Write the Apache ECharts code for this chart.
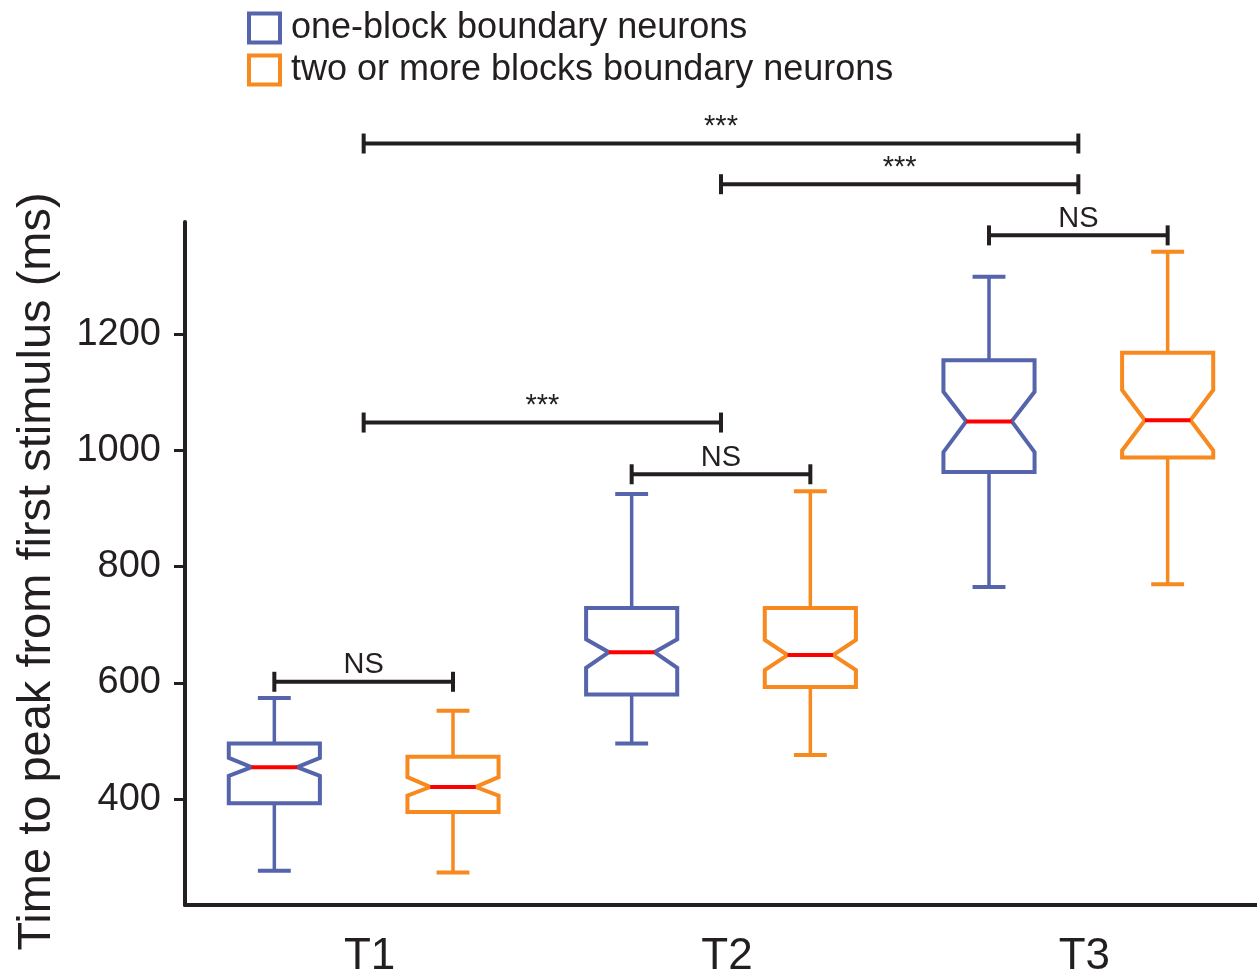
<!DOCTYPE html>
<html>
<head>
<meta charset="utf-8">
<script src="https://cdn.jsdelivr.net/npm/echarts@6/dist/echarts.min.js"></script>
<style>
  html, body { margin: 0; padding: 0; background: #fff; }
  #chart { width: 1257px; height: 979px; }
</style>
</head>
<body>
<div id="chart"></div>
<script>
var categories = ['T1', 'T2', 'T3'];
var groupNames = ['one-block boundary neurons', 'two or more blocks boundary neurons'];
var yTicks = [400, 600, 800, 1000, 1200];

// per category: low whisker, Q1, notch low, median, notch high, Q3, high whisker
var oneBlock = [
    [277, 393, 440, 455, 471, 496, 574],
    [496, 580, 626, 653, 675, 729, 925],
    [765, 963, 997, 1050, 1101, 1155, 1299]
];
var twoBlocks = [
    [274, 378, 406, 421, 438, 473, 552],
    [476, 593, 622, 648, 674, 729, 930],
    [770, 988, 1000, 1052, 1104, 1168, 1342]
];

// significance brackets (x in category units, T1 = 1)
var bracketFrom = [0.75, 1.75, 2.75, 1, 2, 1];
var bracketTo = [1.25, 2.25, 3.25, 2, 3, 3];
var bracketY = [602, 959, 1370, 1048, 1458, 1528];
var bracketLabel = ['NS', 'NS', 'NS', '***', '***', '***'];

var blue = '#5564ab';
var orange = '#f7891f';
var ink = '#231f20';
var font = '"Liberation Sans", Arial, sans-serif';

var boxWidth = 0.255;
var capWidth = 0.092;

function toRows(stats) {
    var rows = [];
    for (var i = 0; i < stats.length; i++) {
        rows.push([i + 1].concat(stats[i]));
    }
    return rows;
}

function boxRenderer(offset, color) {
    return function (params, api) {
        var c = api.value(0) + offset;
        var p = function (v) { return api.coord([c, v]); };
        var low = p(api.value(1)), q1 = p(api.value(2)), nlo = p(api.value(3));
        var med = p(api.value(4)), nhi = p(api.value(5)), q3 = p(api.value(6)), high = p(api.value(7));
        var half = api.size([boxWidth, 0])[0] / 2;
        var capHalf = api.size([capWidth, 0])[0] / 2;
        var x = med[0];
        var L = x - half, R = x + half, d = half / 2;
        return {
            type: 'group',
            children: [
                { type: 'line', shape: { x1: x, y1: q3[1], x2: x, y2: high[1] }, style: { stroke: color, lineWidth: 3.5 } },
                { type: 'line', shape: { x1: x, y1: q1[1], x2: x, y2: low[1] }, style: { stroke: color, lineWidth: 3.5 } },
                { type: 'line', shape: { x1: x - capHalf, y1: high[1], x2: x + capHalf, y2: high[1] }, style: { stroke: color, lineWidth: 4 } },
                { type: 'line', shape: { x1: x - capHalf, y1: low[1], x2: x + capHalf, y2: low[1] }, style: { stroke: color, lineWidth: 4 } },
                {
                    type: 'polygon',
                    shape: {
                        points: [
                            [L, q3[1]], [R, q3[1]], [R, nhi[1]], [R - d, med[1]], [R, nlo[1]],
                            [R, q1[1]], [L, q1[1]], [L, nlo[1]], [L + d, med[1]], [L, nhi[1]]
                        ]
                    },
                    style: { stroke: color, lineWidth: 4, fill: '#fff' }
                },
                { type: 'line', shape: { x1: L + d, y1: med[1], x2: R - d, y2: med[1] }, style: { stroke: '#ff0000', lineWidth: 4 } }
            ]
        };
    };
}

var bracketRows = [];
for (var i = 0; i < bracketFrom.length; i++) {
    bracketRows.push([bracketFrom[i], bracketTo[i], bracketY[i], bracketLabel[i]]);
}

var dom = document.getElementById('chart');
var myChart = echarts.init(dom, null, { renderer: 'canvas' });

var option = {
    animation: false,
    backgroundColor: '#fff',
    textStyle: { fontFamily: font },
    legend: {
        orient: 'vertical',
        left: 247,
        top: 10,
        padding: 0,
        itemWidth: 31,
        itemHeight: 29,
        itemGap: 6,
        selectedMode: false,
        textStyle: { fontSize: 36, lineHeight: 29, color: ink, fontFamily: font, padding: [0, 0, 0, 6] },
        data: [
            { name: groupNames[0], icon: 'rect', itemStyle: { color: '#fff', borderColor: blue, borderWidth: 4 } },
            { name: groupNames[1], icon: 'rect', itemStyle: { color: '#fff', borderColor: orange, borderWidth: 4 } }
        ]
    },
    grid: {
        left: 185,
        right: 0,
        top: 222,
        bottom: 74,
        containLabel: false,
        outerBoundsMode: 'none'
    },
    xAxis: {
        type: 'value',
        min: 0.5,
        max: 3.5,
        splitLine: { show: false },
        axisLine: { show: true, lineStyle: { color: ink, width: 4 } },
        axisTick: { show: false },
        axisLabel: {
            customValues: [1, 2, 3],
            formatter: function (v) { return categories[Math.round(v) - 1]; },
            fontSize: 44,
            color: ink,
            margin: 30,
            padding: [0, 0, 0, 12]
        }
    },
    yAxis: {
        type: 'value',
        min: 218,
        max: 1393,
        name: 'Time to peak from first stimulus (ms)',
        nameLocation: 'middle',
        nameGap: 124,
        nameTextStyle: { fontSize: 47, color: ink, padding: [0, 16, 0, 0] },
        splitLine: { show: false },
        axisLine: { show: true, lineStyle: { color: ink, width: 4 } },
        axisTick: {
            show: true,
            customValues: yTicks,
            length: 11,
            lineStyle: { color: ink, width: 3 }
        },
        axisLabel: {
            customValues: yTicks,
            formatter: function (v) { return String(v); },
            fontSize: 38,
            color: ink,
            margin: 24
        }
    },
    series: [
        {
            name: groupNames[0],
            type: 'custom',
            clip: false,
            itemStyle: { color: blue },
            encode: { x: 0, y: [1, 2, 3, 4, 5, 6, 7] },
            renderItem: boxRenderer(-0.25, blue),
            data: toRows(oneBlock)
        },
        {
            name: groupNames[1],
            type: 'custom',
            clip: false,
            itemStyle: { color: orange },
            encode: { x: 0, y: [1, 2, 3, 4, 5, 6, 7] },
            renderItem: boxRenderer(0.25, orange),
            data: toRows(twoBlocks)
        },
        {
            name: 'brackets',
            type: 'custom',
            clip: false,
            silent: true,
            encode: { x: [0, 1], y: 2 },
            renderItem: function (params, api) {
                var a = api.coord([api.value(0), api.value(2)]);
                var b = api.coord([api.value(1), api.value(2)]);
                var label = bracketRows[params.dataIndex][3];
                return {
                    type: 'group',
                    children: [
                        { type: 'line', shape: { x1: a[0], y1: a[1], x2: b[0], y2: b[1] }, style: { stroke: ink, lineWidth: 4 } },
                        { type: 'line', shape: { x1: a[0], y1: a[1] - 10, x2: a[0], y2: a[1] + 10 }, style: { stroke: ink, lineWidth: 4 } },
                        { type: 'line', shape: { x1: b[0], y1: b[1] - 10, x2: b[0], y2: b[1] + 10 }, style: { stroke: ink, lineWidth: 4 } },
                        {
                            type: 'text',
                            x: (a[0] + b[0]) / 2,
                            y: a[1] - 2,
                            style: {
                                text: label,
                                fill: ink,
                                font: '29px ' + font,
                                align: 'center',
                                verticalAlign: 'bottom'
                            }
                        }
                    ]
                };
            },
            data: bracketRows
        }
    ]
};

if (option && typeof option === 'object') {
    myChart.setOption(option, true);
}
</script>
</body>
</html>
